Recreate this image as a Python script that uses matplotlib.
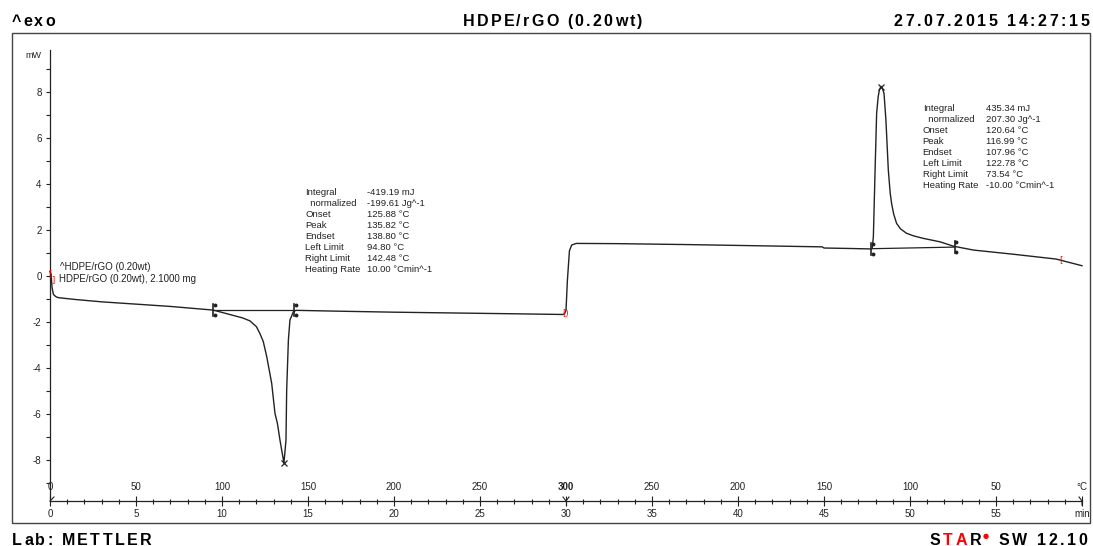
import matplotlib
matplotlib.use('Agg')
import matplotlib.pyplot as plt
from matplotlib import font_manager, ft2font
from matplotlib.patches import Rectangle

# DSC curve (time in min, heat flow in mW)
time_min = [0.0, 0.06, 0.12, 0.2, 0.35, 0.5, 1.5, 3, 5, 7, 9.5, 10.5, 11.2, 11.63, 12.0,
            12.2, 12.4, 12.6, 12.89, 13.08, 13.22, 13.37, 13.6, 13.72, 13.76, 13.86, 13.95,
            14.15, 14.3, 17, 20, 24, 27, 29.8, 29.9, 30.0, 30.08, 30.2, 30.33, 30.6, 33, 37,
            41, 44.9, 45.0, 46.5, 47.7, 47.8, 47.87, 47.97, 48.06, 48.15, 48.22, 48.31, 48.4,
            48.49, 48.6, 48.74, 48.85, 48.93, 49.05, 49.22, 49.45, 49.8, 50.2, 50.77, 51.74,
            52.52, 53.7, 56, 58.5, 60]
heat_flow = [0.2, 0.1, -0.5, -0.8, -0.9, -0.94, -1.02, -1.12, -1.22, -1.32, -1.48, -1.68,
             -1.82, -1.95, -2.2, -2.49, -2.85, -3.5, -4.67, -5.97, -6.4, -7.13, -8.13, -7.13,
             -4.96, -2.78, -1.91, -1.55, -1.49, -1.53, -1.57, -1.61, -1.64, -1.67, -1.65, -1.5,
             -0.2, 1.1, 1.35, 1.42, 1.41, 1.37, 1.32, 1.27, 1.22, 1.2, 1.18, 1.2, 1.71, 4.6,
             7.07, 7.8, 8.09, 8.25, 8.15, 7.94, 6.78, 4.6, 3.6, 3.16, 2.7, 2.29, 2.05, 1.86,
             1.75, 1.64, 1.49, 1.3, 1.13, 0.95, 0.74, 0.45]

# integration baselines and peak marks
base1_t = [9.5, 14.2]
base1_y = [-1.48, -1.48]
base2_t = [47.75, 52.6]
base2_y = [1.19, 1.26]
peak_t = [13.6, 48.31]
peak_y = [-8.13, 8.22]

time_ticks = [0, 5, 10, 15, 20, 25, 30, 35, 40, 45, 50, 55, 60]
time_labels = ['0', '5', '10', '15', '20', '25', '30', '35', '40', '45', '50', '55', 'min']
temp_labels = ['0', '50', '100', '150', '200', '250', '300', '250', '200', '150', '100', '50', '°C']

res_names = ['Integral', '  normalized', 'Onset', 'Peak', 'Endset', 'Left Limit',
             'Right Limit', 'Heating Rate']
res1_vals = ['-419.19 mJ', '-199.61 Jg^-1', '125.88 °C', '135.82 °C', '138.80 °C',
             '94.80 °C', '142.48 °C', '10.00 °Cmin^-1']
res2_vals = ['435.34 mJ', '207.30 Jg^-1', '120.64 °C', '116.99 °C', '107.96 °C',
             '122.78 °C', '73.54 °C', '-10.00 °Cmin^-1']

W, H = 1093, 546
SMALL = ['Liberation Sans Narrow', 'Liberation Sans']
INK = '#222222'

fig = plt.figure(figsize=(W / 100, H / 100), dpi=100)


def fx(x):
    return x / W


def fy(y):
    return 1 - y / H


def spaced_text(x, y, s, size=11, track=3.0, ha='left', colors=None):
    # bold letter-spaced text like the STARe print header
    fp = font_manager.FontProperties(family='Liberation Sans', weight='bold')
    font = ft2font.FT2Font(font_manager.findfont(fp))
    font.set_size(size, 100)
    adv = []
    for ch in s:
        g = font.load_char(ord(ch))
        adv.append(g.linearHoriAdvance / 65536)
    total = sum(adv) + track * (len(s) - 1)
    x0 = x - total if ha == 'right' else x
    for i, ch in enumerate(s):
        c = colors[i] if colors else 'black'
        fig.text(fx(x0), fy(y), ch, fontsize=size, fontweight='bold',
                 family='Liberation Sans', color=c, va='baseline', ha='left')
        x0 += adv[i] + track
    return x0


# outer frame
fig.patches.append(Rectangle((fx(12), fy(523)), (1090 - 12) / W, (523 - 33) / H,
                             transform=fig.transFigure, fill=False, lw=1.0, ec='#444444'))

ax = fig.add_axes([fx(50), fy(501), 1032 / W, 451 / H])
ax.set_xlim(0, 60)
ax.set_ylim(-9.78, 9.83)
ax.patch.set_alpha(0)
for s in ['top', 'right']:
    ax.spines[s].set_visible(False)
for s in ['left', 'bottom']:
    ax.spines[s].set_color(INK)
    ax.spines[s].set_linewidth(0.9)

ax.set_xticks(time_ticks, time_labels, fontfamily=SMALL)
ax.set_xticks(range(61), minor=True)
ax.tick_params(axis='x', which='major', direction='inout', length=7.2, width=0.8,
               pad=2, labelsize=7, colors=INK)
ax.tick_params(axis='x', which='minor', direction='inout', length=3.6, width=0.8, colors=INK)
ax.set_yticks(range(-8, 9, 2), [str(v) for v in range(-8, 9, 2)], fontfamily=SMALL)
ax.set_yticks(range(-9, 10, 2), minor=True)
ax.tick_params(axis='y', which='both', direction='out', length=3, width=0.8,
               pad=3, labelsize=7, colors=INK)

# temperature scale above the time axis
px_y = 1 / 23.0
px_x = 1 / 17.2
for t, lab in zip(time_ticks, temp_labels):
    ax.text(t, -9.78 + 14 * px_y, lab, ha='center', va='center', fontsize=7,
            family=SMALL, color=INK, fontweight='bold' if lab == '300' else 'normal',
            clip_on=False)

# segment marks on the time axis
yb = -9.78
ax.plot([30 - 3 * px_x, 30, 30 + 3 * px_x], [yb + 4 * px_y, yb, yb + 4 * px_y],
        color=INK, lw=0.8, clip_on=False)
ax.plot([30, 30], [yb, yb - 4 * px_y], color=INK, lw=0.8, clip_on=False)
ax.plot([0, 4 * px_x], [yb, yb + 4 * px_y], color=INK, lw=0.8, clip_on=False)
ax.plot([60 - 3 * px_x, 60, 60], [yb + 4 * px_y, yb, yb - 4 * px_y], color=INK, lw=0.8,
        clip_on=False)

# curve
ax.plot(time_min, heat_flow, color=INK, lw=1.0, clip_on=False)
ax.plot(base1_t, base1_y, color=INK, lw=0.9)
ax.plot(base2_t, base2_y, color=INK, lw=0.9)
ax.plot(peak_t, peak_y, 'x', color=INK, ms=5, mew=0.9)

# integration limit brackets
for t, y in zip(base1_t + base2_t, base1_y + base2_y):
    ax.plot([t, t], [y - 6 * px_y, y + 6 * px_y], color=INK, lw=1.2)
    ax.plot([t + 1.5 * px_x, t + 1.5 * px_x], [y - 5 * px_y, y + 5 * px_y], 'o',
            color=INK, ms=1.8)

# red evaluation range marks
ax.text(0.0, 0.12, '[', color='red', fontsize=6, ha='center', va='center', clip_on=False)
ax.text(0.18, -0.15, ']', color='red', fontsize=6, ha='center', va='center')
ax.text(29.95, -1.62, '[)', color='red', fontsize=6, ha='center', va='center')
ax.text(58.8, 0.72, '[', color='red', fontsize=6, ha='center', va='center')

# curve labels
ax.text(0.58, 0.40, '^HDPE/rGO (0.20wt)', fontsize=7, family=SMALL, color=INK, va='center')
ax.text(0.52, -0.14, 'HDPE/rGO (0.20wt), 2.1000 mg', fontsize=7, family=SMALL,
        color=INK, va='center')

# result boxes
row = 11 * px_y
for i, (n, v1, v2) in enumerate(zip(res_names, res1_vals, res2_vals)):
    y1 = (276 - 192.7) * px_y - i * row
    y2 = (276 - 108.3) * px_y - i * row
    ax.text(14.83, y1, n, fontsize=6.8, family=SMALL, color=INK, va='center')
    ax.text(18.41, y1, v1, fontsize=6.8, family=SMALL, color=INK, va='center')
    ax.text(50.74, y2, n, fontsize=6.8, family=SMALL, color=INK, va='center')
    ax.text(54.43, y2, v2, fontsize=6.8, family=SMALL, color=INK, va='center')

fig.text(fx(33), fy(55), 'mW', fontsize=6.5, family=SMALL, color=INK, ha='center', va='center')

# header and footer
spaced_text(12, 26, '^exo', size=11.5, track=2.0)
spaced_text(463, 26, 'HDPE/rGO (0.20wt)', size=11.5, track=2.2)
spaced_text(1089, 26, '27.07.2015 14:27:15', size=11.5, track=2.6, ha='right')
spaced_text(12, 545, 'Lab: METTLER', size=11.5, track=2.3)

xe = spaced_text(930, 545, 'STAR', size=11.5, track=2.6,
                 colors=['black', 'red', 'red', 'black'])
fig.text(fx(xe - 1), fy(536), '●', fontsize=5, color='red', va='center', ha='left',
         family='DejaVu Sans')
spaced_text(1087, 545, 'SW 12.10', size=11.5, track=2.6, ha='right')

fig.savefig('out.png', dpi=100)
